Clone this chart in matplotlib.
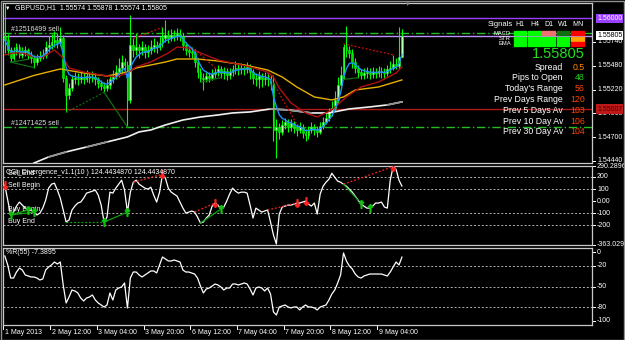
import numpy as np
import pandas as pd
import matplotlib
matplotlib.use("Agg")
import matplotlib.pyplot as plt
from matplotlib.patches import Rectangle
from matplotlib.lines import Line2D
from matplotlib.transforms import blended_transform_factory as blend

plt.rcParams['font.family'] = ['Liberation Sans', 'DejaVu Sans']

W, H = 625, 340

# GBPUSD H1 bars, 1 May 20:00 .. 9 May 2013
closes = [1.5576, 1.5565, 1.5557, 1.5563, 1.5568, 1.5560, 1.5563, 1.5565, 1.5560, 1.5557,
          1.5552, 1.5557, 1.5559, 1.5560, 1.5568, 1.5571, 1.5574, 1.5576, 1.5573, 1.5578,
          1.5535, 1.5516, 1.5524, 1.5533, 1.5535, 1.5533, 1.5536, 1.5534, 1.5537, 1.5535,
          1.5536, 1.5533, 1.5529, 1.5526, 1.5524, 1.5527, 1.5533, 1.5537, 1.5541, 1.5546,
          1.5552, 1.5549, 1.5511, 1.5571, 1.5565, 1.5568, 1.5565, 1.5568, 1.5563, 1.5565,
          1.5569, 1.5571, 1.5568, 1.5573, 1.5578, 1.5582, 1.5578, 1.5582, 1.5580, 1.5583,
          1.5581, 1.5571, 1.5565, 1.5563, 1.5562, 1.5552, 1.5541, 1.5535, 1.5533, 1.5537,
          1.5535, 1.5539, 1.5541, 1.5544, 1.5540, 1.5542, 1.5538, 1.5541, 1.5544, 1.5546,
          1.5544, 1.5546, 1.5544, 1.5547, 1.5541, 1.5535, 1.5533, 1.5537, 1.5533, 1.5535,
          1.5533, 1.5529, 1.5478, 1.5481, 1.5476, 1.5483, 1.5486, 1.5481, 1.5485, 1.5480,
          1.5478, 1.5481, 1.5475, 1.5472, 1.5478, 1.5481, 1.5478, 1.5476, 1.5482, 1.5487,
          1.5491, 1.5497, 1.5502, 1.5511, 1.5527, 1.5538, 1.5568, 1.5565, 1.5562, 1.5552,
          1.5546, 1.5541, 1.5538, 1.5540, 1.5541, 1.5539, 1.5541, 1.5540, 1.5542, 1.5541,
          1.5540, 1.5544, 1.5546, 1.5550, 1.5548, 1.55574, 1.55805]
highs = [1.5617, 1.5583, 1.5568, 1.5568, 1.5573, 1.5572, 1.5569, 1.5570, 1.5567, 1.5564,
         1.5560, 1.5561, 1.5564, 1.5566, 1.5575, 1.5580, 1.5583, 1.5586, 1.5584, 1.5590,
         1.5582, 1.5538, 1.5529, 1.5538, 1.5541, 1.5540, 1.5542, 1.5540, 1.5543, 1.5541,
         1.5542, 1.5540, 1.5536, 1.5532, 1.5530, 1.5533, 1.5538, 1.5543, 1.5549, 1.5556,
         1.5560, 1.5557, 1.5553, 1.5604, 1.5578, 1.5584, 1.5572, 1.5575, 1.5572, 1.5571,
         1.5576, 1.5578, 1.5575, 1.5580, 1.5590, 1.5598, 1.5587, 1.5588, 1.5587, 1.5589,
         1.5588, 1.5584, 1.5574, 1.5569, 1.5568, 1.5566, 1.5556, 1.5546, 1.5540, 1.5542,
         1.5541, 1.5544, 1.5546, 1.5549, 1.5548, 1.5547, 1.5546, 1.5546, 1.5549, 1.5553,
         1.5550, 1.5551, 1.5550, 1.5552, 1.5550, 1.5544, 1.5540, 1.5542, 1.5540, 1.5541,
         1.5540, 1.5538, 1.5538, 1.5490, 1.5485, 1.5489, 1.5491, 1.5490, 1.5490, 1.5488,
         1.5484, 1.5486, 1.5484, 1.5479, 1.5482, 1.5487, 1.5484, 1.5482, 1.5487, 1.5492,
         1.5496, 1.5502, 1.5510, 1.5520, 1.5536, 1.5548, 1.5572, 1.5591, 1.5570, 1.5566,
         1.5556, 1.5549, 1.5545, 1.5546, 1.5547, 1.5546, 1.5547, 1.5546, 1.5548, 1.5547,
         1.5546, 1.5549, 1.5553, 1.5560, 1.5556, 1.5590, 1.55878]
lows = [1.5562, 1.5560, 1.5552, 1.5554, 1.5560, 1.5556, 1.5557, 1.5559, 1.5555, 1.5551,
        1.5546, 1.5549, 1.5553, 1.5555, 1.5557, 1.5563, 1.5566, 1.5569, 1.5567, 1.5570,
        1.5530, 1.5497, 1.5512, 1.5520, 1.5528, 1.5527, 1.5529, 1.5528, 1.5530, 1.5529,
        1.5530, 1.5527, 1.5524, 1.5521, 1.5519, 1.5520, 1.5523, 1.5529, 1.5533, 1.5536,
        1.5540, 1.5540, 1.5481, 1.5507, 1.5558, 1.5560, 1.5557, 1.5560, 1.5557, 1.5558,
        1.5561, 1.5563, 1.5562, 1.5565, 1.5569, 1.5574, 1.5573, 1.5575, 1.5575, 1.5576,
        1.5575, 1.5565, 1.5560, 1.5558, 1.5556, 1.5547, 1.5535, 1.5530, 1.5521, 1.5530,
        1.5530, 1.5532, 1.5535, 1.5537, 1.5535, 1.5534, 1.5532, 1.5534, 1.5537, 1.5539,
        1.5538, 1.5539, 1.5538, 1.5540, 1.5533, 1.5528, 1.5526, 1.5524, 1.5525, 1.5527,
        1.5526, 1.5522, 1.5466, 1.5447, 1.5468, 1.5472, 1.5479, 1.5476, 1.5477, 1.5474,
        1.5471, 1.5474, 1.5469, 1.5466, 1.5468, 1.5474, 1.5472, 1.5470, 1.5473, 1.5479,
        1.5484, 1.5488, 1.5493, 1.5498, 1.5507, 1.5522, 1.5533, 1.5558, 1.5556, 1.5546,
        1.5540, 1.5535, 1.5533, 1.5534, 1.5535, 1.5534, 1.5535, 1.5535, 1.5536, 1.5535,
        1.5534, 1.5537, 1.5540, 1.5543, 1.5545, 1.5545, 1.55574]
first_open = 1.5580

# moving averages: (bar, price)
ma_red = [(0, 1.55598), (3, 1.55620), (6, 1.55620), (10, 1.55576), (13, 1.55576), (17, 1.55652),
          (20, 1.55565), (22, 1.55456), (27, 1.55412), (33, 1.55379), (38, 1.55357), (42, 1.55401),
          (45, 1.55467), (50, 1.55521), (56, 1.55620), (59, 1.55685), (63, 1.55674), (67, 1.55620),
          (73, 1.55543), (78, 1.55510), (84, 1.55467), (90, 1.55412), (92, 1.55357), (94, 1.55237),
          (98, 1.55073), (103, 1.54964), (107, 1.54920), (112, 1.54997), (117, 1.55139),
          (122, 1.55248), (128, 1.55303), (134, 1.55401), (136, 1.55467)]
ma_yellow = [(0, 1.55270), (10, 1.55374), (19, 1.55445), (27, 1.55401), (35, 1.55368),
             (42, 1.55412), (45, 1.55456), (55, 1.55521), (59, 1.55554), (66, 1.55554),
             (73, 1.55532), (82, 1.55489), (90, 1.55434), (95, 1.55357), (100, 1.55248),
             (106, 1.55139), (112, 1.55106), (116, 1.55139), (120, 1.55215), (128, 1.55248),
             (136, 1.55325)]
ma_white = [(10, 1.54417), (15, 1.54483), (21, 1.54538), (28, 1.54592), (35, 1.54647),
            (42, 1.54702), (46, 1.54757), (50, 1.54778), (55, 1.54833), (61, 1.54887),
            (67, 1.54920), (73, 1.54942), (78, 1.54964), (84, 1.54975), (91, 1.55008),
            (97, 1.54997), (105, 1.54964), (111, 1.54964), (118, 1.55008), (125, 1.55030),
            (131, 1.55052), (136, 1.55085)]

cci = [132, 8, -115, -91, -41, -8, -33, -58, -74, -74,
       -91, -115, -99, -58, 8, 107, 140, 148, 91, 25,
       -74, -173, -156, -74, -41, -16, -8, 25, 66, 74,
       82, 91, 49, -33, -173, -132, 74, 66, 107, 140,
       173, 91, -91, 74, 156, 173, 140, 123, 107, 99,
       115, 49, -8, 74, 222, 189, 107, 74, 58, 41,
       -8, -58, -99, -91, -82, -91, -132, -181, -173, -140,
       -115, -41, -16, -33, -66, -49, 0, 58, 107, 82,
       66, 74, 74, 66, -33, -140, -58, -74, -91, -82,
       -74, -173, -280, -355, -107, -49, -41, -33, -33, -25,
       -16, -16, -8, 0, -25, -41, -16, -107, 58, 123,
       156, 181, 230, 198, 165, 156, 140, 123, 99, 74,
       41, 8, -25, -41, -58, -58, -41, -16, -16, -8,
       -49, -58, 173, 285, 263, 173, 124.44]
wpr = [-5.8, -18.8, -37.7, -37.7, -29.0, -23.2, -26.1, -33.3, -34.8, -36.2,
       -36.2, -37.7, -40.6, -39.1, -26.1, -21.7, -18.8, -14.5, -17.4, -14.5,
       -47.8, -73.9, -65.2, -55.1, -56.5, -59.4, -66.7, -71.0, -66.7, -65.2,
       -62.3, -69.6, -73.9, -76.8, -79.7, -76.8, -59.4, -69.6, -55.1, -52.2,
       -50.7, -44.9, -81.1, -37.7, -29.0, -29.0, -33.3, -36.2, -33.3, -30.4,
       -27.5, -27.5, -30.4, -18.8, -7.2, -10.1, -13.0, -13.0, -11.6, -13.0,
       -14.5, -26.1, -29.0, -29.0, -30.4, -31.9, -37.7, -49.3, -59.4, -53.6,
       -52.2, -49.3, -46.4, -47.8, -50.7, -55.1, -52.2, -52.2, -46.4, -46.4,
       -47.8, -46.4, -44.9, -46.4, -53.6, -62.3, -52.2, -50.7, -52.2, -56.5,
       -52.2, -60.9, -86.9, -91.3, -79.7, -78.2, -76.8, -79.7, -81.1, -79.7,
       -79.7, -84.0, -79.7, -76.8, -79.7, -79.7, -81.1, -84.0, -79.7, -78.2,
       -76.8, -69.6, -60.9, -55.1, -44.9, -33.3, -1.4, -13.0, -20.3, -24.6,
       -31.9, -36.2, -37.7, -34.8, -33.3, -31.9, -31.9, -31.9, -31.9, -31.9,
       -33.3, -34.8, -29.0, -21.7, -14.5, -18.8, -7.39]

# divergence signals (bar pairs)
sell_pairs = [(44, 54), (65, 72), (90, 100), (116, 133)]
buy_pairs = [(2, 8), (2, 10), (21, 34), (34, 42), (67, 74), (116, 121)]
sell_arrows = [0, 54, 72, 100, 103, 133]
buy_arrows = [2, 8, 10, 34, 42, 74, 122, 125]

time_bars = [0, 16, 32, 48, 64, 80, 96, 112, 128]
time_labels = ["1 May 2013", "2 May 12:00", "3 May 04:00", "3 May 20:00", "6 May 12:00",
               "7 May 04:00", "7 May 20:00", "8 May 12:00", "9 May 04:00"]
price_ticks = [1.55740, 1.55480, 1.55220, 1.54960, 1.54700, 1.54440]

sig_cols = ["H1", "H4", "D1", "W1", "MN"]
sig_rows = ["MACD", "STR", "EMA"]
sig_colors = [["#00ff00", "#00ff00", "#f07070", "#107010", "#ff0000"],
              ["#00ff00", "#00ff00", "#00ff00", "#00ff00", "#ffa500"],
              ["#00ff00", "#00ff00", "#00ff00", "#00ff00", "#ff0000"]]
info_labels = ["Spread", "Pips to Open", "Today's Range", "Prev Days Range",
               "Prev 5 Days Av", "Prev 10 Day Av", "Prev 30 Day Av"]
info_values = ["0.5", "48", "56", "120", "103", "106", "104"]
info_colors = ["#ff8c00", "#20d020", "#ff4500", "#ff4500", "#ff4500", "#ff4500", "#ff4500"]

n = len(closes)
x = np.arange(n)
opens = [first_open] + closes[:-1]
blue = pd.Series(closes).ewm(span=5).mean()

fig = plt.figure(figsize=(W / 100, H / 100), dpi=100, facecolor="black")


def box(x0, y0, x1, y1):
    a = fig.add_axes([x0 / W, 1 - y1 / H, (x1 - x0) / W, (y1 - y0) / H])
    a.set_facecolor("black")
    a.set_xticks([])
    a.set_yticks([])
    for s in a.spines.values():
        s.set_color("#c8c8c8")
        s.set_linewidth(0.9)
    a.set_xlim(-0.62, 201.1)
    return a


def ftext(px, py, s, **kw):
    kw.setdefault("fontsize", 5)
    kw.setdefault("color", "white")
    kw.setdefault("va", "center")
    fig.text(px / W, 1 - py / H, s, **kw)


main = box(3, 3, 592, 163)
main.set_ylim(1.54417, 1.56166)
ax_cci = box(3, 166, 592, 245)
ax_cci.set_ylim(-363.0296, 290.2896)
ax_wpr = box(3, 248, 592, 325)
ax_wpr.set_ylim(-105.8, 5.8)

# horizontal levels in main window
main.axhline(1.56000, color="#9a40ff", lw=1)
main.axhline(1.55838, color="#20c020", lw=1, ls=(0, (6, 2, 1, 2)))
main.axhline(1.55805, color="#c090ff", lw=1)
main.axhline(1.55007, color="#b01818", lw=1)
main.axhline(1.54811, color="#20c020", lw=1, ls=(0, (6, 2, 1, 2)))
main.text(2.0, 1.55842, "#12516499 sell", fontsize=5, color="#e0e0e0", va="bottom")
main.text(2.0, 1.54815, "#12471425 sell", fontsize=5, color="#e0e0e0", va="bottom")

# candles
for i in range(n):
    o, c = opens[i], closes[i]
    main.vlines(i, lows[i], highs[i], color="#00ff00", lw=0.8, zorder=3)
    face = "#b8ffb8" if c >= o else "#00e000"
    main.bar(i, max(abs(c - o), 0.00003), bottom=min(o, c), width=0.62,
             color=face, edgecolor="#00ff00", linewidth=0.4, zorder=4)

# moving averages
wx, wy = zip(*ma_white)
main.plot(wx, wy, color="#f0f0f0", lw=1.2, zorder=5)
for k in (1, 3, 14, 15, 20):
    main.plot(wx[k:k + 2], wy[k:k + 2], color="#909090", lw=1.2, zorder=5)
yx, yy = zip(*ma_yellow)
main.plot(yx, yy, color="#e8b000", lw=1.0, zorder=5)
rx, ry = zip(*ma_red)
main.plot(rx, ry, color="#b01010", lw=1.0, zorder=5)
main.plot(x, blue, color="#1e90ff", lw=1.0, zorder=6)

# divergence lines on price
for a, b in sell_pairs:
    main.plot([a, b], [highs[a], highs[b]], color="#d01010", lw=0.9, ls=(0, (1.5, 1.5)), zorder=6)
for a, b in buy_pairs:
    st = (0, (1.5, 1.5)) if (a, b) == (21, 34) else "-"
    main.plot([a, b], [lows[a], lows[b]], color="#107010", lw=0.9, ls=st, zorder=6)

# CCI window
for lv in (200, 100, -100, -200):
    ax_cci.axhline(lv, color="#b0b0b0", lw=0.7, ls=(0, (2, 2)))
ax_cci.plot(x, cci, color="white", lw=0.9, zorder=3)
for a, b in sell_pairs:
    ax_cci.plot([a, b], [cci[a], cci[b]], color="#ff2020", lw=0.9, ls=(0, (1.5, 1.5)), zorder=4)
for a, b in buy_pairs:
    st = (0, (1.5, 1.5)) if (a, b) == (21, 34) else "-"
    ax_cci.plot([a, b], [cci[a], cci[b]], color="#10a010", lw=0.9, ls=st, zorder=4)
ax_cci.scatter(sell_arrows, [cci[i] for i in sell_arrows], marker=r"$\downarrow$",
               s=30, color="#ff2020", zorder=5)
ax_cci.scatter(buy_arrows, [cci[i] for i in buy_arrows], marker=r"$\uparrow$",
               s=30, color="#10c010", zorder=5)
ax_cci.text(1.0, 200, "Sell End", fontsize=5, color="white", va="bottom")
ax_cci.text(1.0, 100, "Sell Begin", fontsize=5, color="white", va="bottom")
ax_cci.text(1.0, -100, "Buy Begin", fontsize=5, color="white", va="bottom")
ax_cci.text(1.0, -200, "Buy End", fontsize=5, color="white", va="bottom")
ftext(6, 172, "CCI_Divergence_v1.1(10 ) 124.4434870 124.4434870")

# %R window
for lv in (-20, -50, -80):
    ax_wpr.axhline(lv, color="#b0b0b0", lw=0.7, ls=(0, (2, 2)))
ax_wpr.plot(x, wpr, color="white", lw=0.9)
ftext(6, 253, "%R(55) -7.3895")

# right price scale
def scale(ax, vals, labels):
    tr = blend(fig.transFigure, ax.transData)
    trt = blend(ax.transAxes, ax.transData)
    for v, s in zip(vals, labels):
        ax.text(597 / W, v, s, transform=tr, fontsize=5, color="white", va="center")
        ax.plot([1.0, 1.0 + 3 / 589], [v, v], transform=trt, color="white", lw=0.7, clip_on=False)

scale(main, price_ticks, ["%.5f" % p for p in price_ticks])
scale(ax_cci, [290.2896, 200, 100, 0, -100, -200, -363.0296],
      ["290.2896", "200", "100", "0.00", "-100", "-200", "-363.0296"])
scale(ax_wpr, [0, -20, -50, -80, -100], ["0", "-20", "-50", "-80", "-100"])

trp = blend(fig.transFigure, main.transData)
main.text(597 / W, 1.56000, "1.56000", transform=trp, fontsize=5, color="white", va="center",
          bbox=dict(boxstyle="square,pad=0.15", fc="#9a40ff", ec="none"))
main.text(597 / W, 1.55815, "1.55805", transform=trp, fontsize=5, color="black", va="center",
          bbox=dict(boxstyle="square,pad=0.15", fc="white", ec="none"))
main.text(597 / W, 1.55007, "1.55007", transform=trp, fontsize=5, color="#400000", va="center",
          bbox=dict(boxstyle="square,pad=0.15", fc="#c01818", ec="none"))

# time axis
trx = blend(ax_wpr.transData, fig.transFigure)
for b, s in zip(time_bars, time_labels):
    ax_wpr.plot([b - 0.5, b - 0.5], [1 - 325 / H, 1 - 329 / H], transform=trx,
                color="white", lw=0.7, clip_on=False)
    ax_wpr.text(b, 1 - 332 / H, s, transform=trx, fontsize=5, color="white", va="center")

# header
ftext(5, 8, "\u25bc", fontsize=4)
ftext(15, 8, "GBPUSD,H1  1.55574 1.55878 1.55574 1.55805")
ftext(408, 4, "\u25bc", fontsize=4, color="#8090a0", ha="center")

# signals panel
ftext(500, 25, "Signals", fontsize=5.5, ha="center")
for k, s in enumerate(sig_cols):
    ftext(520 + k * 14.4, 25, s, fontsize=5, ha="center")
for r, s in enumerate(sig_rows):
    yc = 33.3 + r * 5.3
    ftext(511, yc, s, fontsize=4.2, ha="right")
    for k in range(5):
        fig.add_artist(Rectangle(((513.5 + k * 14.4) / W, 1 - (yc + 1.9) / H), 12.6 / W, 3.8 / H,
                                 transform=fig.transFigure, color=sig_colors[r][k]))

ftext(585, 54, "1.55805", fontsize=10.5, color="#20e020", ha="right")
for k in range(len(info_labels)):
    yc = 67 + k * 10.8
    ftext(563, yc, info_labels[k], fontsize=6.3, ha="right")
    ftext(585, yc, info_values[k], fontsize=6.3, color=info_colors[k], ha="right")

fig.add_artist(Rectangle((0.5 / W, 0.5 / H), 623.5 / W, 338.5 / H, transform=fig.transFigure,
                         fill=False, ec="#909090", lw=1))

fig.savefig("out.png", dpi=100, facecolor="black")
